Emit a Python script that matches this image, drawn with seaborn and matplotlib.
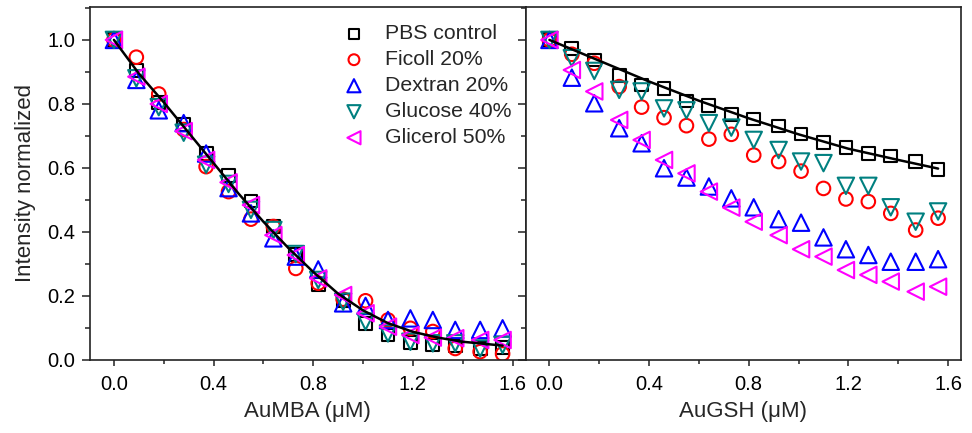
import matplotlib.pyplot as plt
import matplotlib.ticker as ticker
import seaborn as sns

sns.set_style("ticks")
plt.rcParams["font.family"] = ["Liberation Sans", "DejaVu Sans"]

# concentration points (uM), same for both panels
conc = [0.0, 0.09, 0.18, 0.28, 0.37, 0.46, 0.55, 0.64, 0.73, 0.82,
        0.92, 1.01, 1.10, 1.19, 1.28, 1.37, 1.47, 1.56]

labels = ["PBS control", "Ficoll 20%", "Dextran 20%", "Glucose 40%", "Glicerol 50%"]

# AuMBA panel
mba_pbs = [1.0, 0.905, 0.805, 0.735, 0.645, 0.577, 0.497, 0.417, 0.33, 0.237,
           0.185, 0.115, 0.078, 0.054, 0.047, 0.045, 0.035, 0.04]
mba_ficoll = [1.0, 0.946, 0.831, 0.72, 0.604, 0.526, 0.44, 0.417, 0.286, 0.24,
              0.19, 0.185, 0.125, 0.099, 0.089, 0.036, 0.026, 0.019]
mba_dextran = [1.0, 0.875, 0.78, 0.74, 0.645, 0.537, 0.458, 0.38, 0.323, 0.283,
               0.177, 0.169, 0.125, 0.13, 0.125, 0.094, 0.094, 0.099]
mba_glucose = [1.0, 0.88, 0.79, 0.71, 0.61, 0.55, 0.469, 0.406, 0.331, 0.25,
               0.182, 0.12, 0.083, 0.057, 0.052, 0.052, 0.036, 0.047]
mba_glicerol = [1.0, 0.885, 0.80, 0.715, 0.625, 0.555, 0.484, 0.39, 0.328, 0.255,
                0.203, 0.146, 0.104, 0.078, 0.07, 0.068, 0.0625, 0.0625]

# AuGSH panel
gsh_pbs = [1.0, 0.972, 0.9375, 0.89, 0.859, 0.849, 0.809, 0.795, 0.768, 0.753,
           0.731, 0.706, 0.679, 0.665, 0.644, 0.6375, 0.62, 0.594]
gsh_ficoll = [1.0, 0.955, 0.927, 0.854, 0.79, 0.757, 0.732, 0.69, 0.705, 0.64,
              0.62, 0.59, 0.536, 0.503, 0.495, 0.458, 0.406, 0.443]
gsh_dextran = [1.0, 0.882, 0.802, 0.724, 0.677, 0.599, 0.57, 0.542, 0.505, 0.477,
               0.44, 0.429, 0.383, 0.346, 0.328, 0.307, 0.307, 0.315]
gsh_glucose = [1.0, 0.943, 0.903, 0.844, 0.839, 0.786, 0.78, 0.74, 0.726, 0.6875,
               0.656, 0.62, 0.615, 0.544, 0.544, 0.477, 0.432, 0.464]
gsh_glicerol = [1.0, 0.906, 0.839, 0.75, 0.6875, 0.625, 0.583, 0.526, 0.476, 0.432,
                0.39, 0.346, 0.323, 0.281, 0.266, 0.245, 0.2135, 0.229]

# fitted curves of PBS control
fit_mba_x = [0.0, 0.1, 0.2, 0.3, 0.4, 0.5, 0.6, 0.7, 0.8, 0.9, 1.0, 1.1, 1.2, 1.3, 1.4, 1.56]
fit_mba_y = [1.0, 0.895, 0.805, 0.71, 0.615, 0.52, 0.432, 0.35, 0.275, 0.207,
             0.155, 0.115, 0.088, 0.07, 0.057, 0.045]
fit_gsh_x = [0.0, 0.2, 0.4, 0.6, 0.8, 1.0, 1.2, 1.4, 1.56]
fit_gsh_y = [1.0, 0.935, 0.87, 0.81, 0.755, 0.705, 0.66, 0.625, 0.598]

colors = ["black", "#ff0000", "#0000ff", "#008080", "#ff00ff"]
markers = ["s", "o", "^", "v", "<"]
sizes = [85, 95, 140, 140, 140]


def draw_panel(ax, series, fit_x, fit_y, with_labels):
    for vals, lab, col, mk, sz in zip(series, labels, colors, markers, sizes):
        sns.scatterplot(x=conc, y=vals, ax=ax, marker=mk, s=sz, color=col,
                        facecolor="none", edgecolor=col, linewidth=1.5,
                        label=lab if with_labels else None,
                        legend=False, zorder=2)
    sns.lineplot(x=fit_x, y=fit_y, ax=ax, color="black", linewidth=1.8,
                 zorder=3, estimator=None)
    ax.set_xlim(-0.096, 1.652)
    ax.set_ylim(0, 1.103)
    ax.xaxis.set_major_locator(ticker.MultipleLocator(0.4))
    ax.xaxis.set_minor_locator(ticker.MultipleLocator(0.2))
    ax.yaxis.set_major_locator(ticker.MultipleLocator(0.2))
    ax.yaxis.set_minor_locator(ticker.MultipleLocator(0.1))
    ax.xaxis.set_major_formatter(ticker.FormatStrFormatter("%.1f"))
    ax.yaxis.set_major_formatter(ticker.FormatStrFormatter("%.1f"))
    ax.tick_params(which="both", direction="out", width=1.1,
                   labelsize=14.5, colors="#222222", labelcolor="black")
    ax.tick_params(axis="x", which="major", length=4, pad=7)
    ax.tick_params(axis="x", which="minor", length=3)
    ax.tick_params(axis="y", which="major", length=5.8, pad=5)
    ax.tick_params(axis="y", which="minor", length=3.6)
    for sp in ax.spines.values():
        sp.set_linewidth(1.2)
        sp.set_color("#222222")


fig, (ax1, ax2) = plt.subplots(1, 2, figsize=(9.72, 4.33), dpi=100, sharey=True)
fig.subplots_adjust(left=0.0926, right=0.9887, top=0.984, bottom=0.1686, wspace=0)

draw_panel(ax1, [mba_pbs, mba_ficoll, mba_dextran, mba_glucose, mba_glicerol],
           fit_mba_x, fit_mba_y, True)
draw_panel(ax2, [gsh_pbs, gsh_ficoll, gsh_dextran, gsh_glucose, gsh_glicerol],
           fit_gsh_x, fit_gsh_y, False)

ax2.tick_params(axis="y", which="both", labelleft=False)
if ax2.get_legend() is not None:
    ax2.get_legend().remove()

ax1.set_xlabel("AuMBA (\u03bcM)", fontsize=16, labelpad=5)
ax2.set_xlabel("AuGSH (\u03bcM)", fontsize=16, labelpad=5)
ax1.set_ylabel("Intensity normalized", fontsize=16, labelpad=8)

ax1.legend(loc="upper right", bbox_to_anchor=(0.999, 0.99), frameon=False,
           fontsize=15.3, handletextpad=0.45, labelspacing=0.33, borderaxespad=0.25,
           markerscale=0.8)

plt.savefig("out.png", dpi=100)
